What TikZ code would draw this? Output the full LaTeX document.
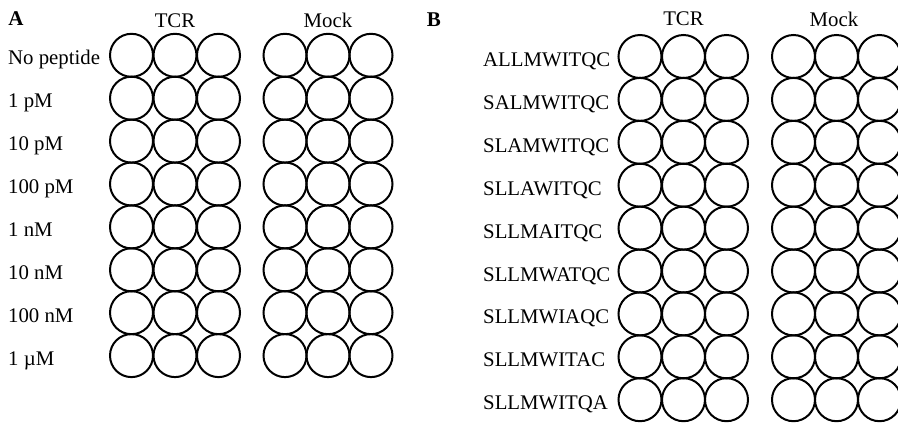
\documentclass[tikz,border=0pt]{standalone}
\usepackage{fontspec}
\setmainfont{Liberation Serif}
\begin{document}
\begin{tikzpicture}[x=1pt,y=-1pt,
  well/.style={circle,draw,line width=2pt,minimum size=43pt,inner sep=0pt},
  lab/.style={anchor=base west,font=\fontsize{20.8}{24}\selectfont,inner sep=0pt},
  head/.style={anchor=base,font=\fontsize{20.8}{24}\selectfont,inner sep=0pt},
  panel/.style={anchor=base,font=\fontsize{21}{24}\selectfont\bfseries,inner sep=0pt}]
\useasboundingbox (0,0) rectangle (898,424);
% Panel A
\node[panel] (pA) at (16,25) {A};
\node[head] (hAt) at (175,27) {TCR};
\node[head] (hAm) at (328,27) {Mock};
\foreach \t [count=\i from 0] in {No peptide,1 pM,10 pM,100 pM,1 nM,10 nM,100 nM,1 µM} {
  \pgfmathsetmacro{\yy}{55.3+\i*42.9}
  \node[lab] (la\i) at (8,\yy+9.5) {\t};
  \foreach \xx [count=\j] in {131.5,175,218.5} \node[well] (at\i-\j) at (\xx,\yy) {};
  \foreach \xx [count=\j] in {285,328,371} \node[well] (am\i-\j) at (\xx,\yy) {};
}
% Panel B
\node[panel] (pB) at (434,26) {B};
\node[head] (hBt) at (683.5,25) {TCR};
\node[head] (hBm) at (834,26) {Mock};
\foreach \t [count=\i from 0] in {ALLMWITQC,SALMWITQC,SLAMWITQC,SLLAWITQC,SLLMAITQC,SLLMWATQC,SLLMWIAQC,SLLMWITAC,SLLMWITQA} {
  \pgfmathsetmacro{\yy}{56.5+\i*42.9}
  \node[lab] (lb\i) at (483,\yy+10) {\t};
  \foreach \xx [count=\j] in {640,683.5,726.5} \node[well] (bt\i-\j) at (\xx,\yy) {};
  \foreach \xx [count=\j] in {793.5,836.5,879.5} \node[well] (bm\i-\j) at (\xx,\yy) {};
}
\end{tikzpicture}
\end{document}
